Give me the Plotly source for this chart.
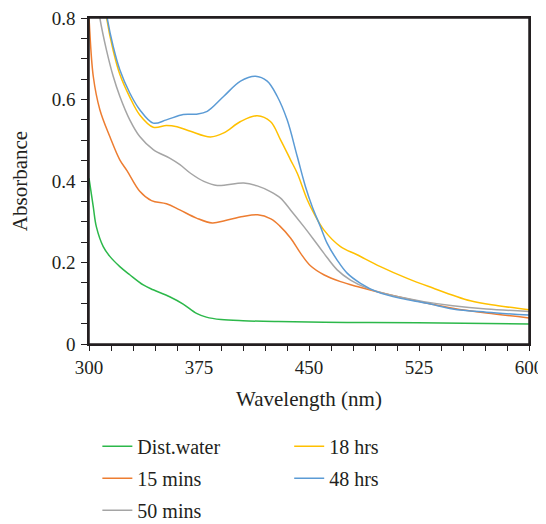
import plotly.graph_objects as go

# Wavelength (nm) / absorbance
water_x = [300, 302.9, 305, 309.7, 314.2, 321, 327.8, 337, 343.8, 355, 364.2, 373.3, 380, 390, 405, 429, 476, 524, 600]
water_y = [0.407, 0.337, 0.288, 0.239, 0.215, 0.190, 0.170, 0.145, 0.133, 0.116, 0.098, 0.075, 0.066, 0.060, 0.057, 0.055, 0.053, 0.052, 0.049]

min15_x = [299, 300, 302.9, 307.4, 314.2, 321, 326, 334.6, 342.6, 352.8, 361.9, 373.3, 384, 393, 405, 415, 424, 430,
           437.4, 444.2, 451, 460.1, 471.5, 482.8, 505.6, 530.6, 548, 571, 600]
min15_y = [0.86, 0.80, 0.657, 0.575, 0.509, 0.452, 0.425, 0.375, 0.352, 0.344, 0.329, 0.309, 0.297, 0.303, 0.313, 0.317, 0.307, 0.290,
           0.260, 0.223, 0.192, 0.170, 0.153, 0.141, 0.120, 0.100, 0.088, 0.076, 0.064]

min50_x = [305, 307.4, 312, 316.5, 321, 327.8, 334.6, 343.8, 355, 362, 369.2, 378.3, 387.4, 405.5, 414.7, 423.7, 430.6,
           437.4, 446.5, 453.3, 460.1, 469.2, 478.3, 489.7, 505.6, 528.3, 548, 571, 600]
min50_y = [0.86, 0.80, 0.72, 0.657, 0.608, 0.550, 0.509, 0.477, 0.456, 0.440, 0.419, 0.399, 0.389, 0.395, 0.388, 0.374, 0.358,
           0.329, 0.288, 0.256, 0.223, 0.182, 0.157, 0.137, 0.120, 0.104, 0.094, 0.086, 0.080]

hrs18_x = [310, 312, 316.5, 321, 327.8, 334.6, 343.8, 352.8, 360, 369.2, 382.8, 391.9, 403.3, 414.7, 423.7, 430.6, 437.4,
           442, 448.8, 453.3, 460.1, 471.5, 482.8, 498.7, 517, 531.7, 560, 579, 600]
hrs18_y = [0.86, 0.80, 0.72, 0.662, 0.606, 0.562, 0.532, 0.536, 0.533, 0.522, 0.508, 0.518, 0.546, 0.560, 0.546, 0.501, 0.452,
           0.419, 0.354, 0.321, 0.280, 0.239, 0.219, 0.190, 0.161, 0.141, 0.106, 0.094, 0.084]

hrs48_x = [310, 312.4, 316.5, 321, 327.8, 334.6, 343.8, 352.8, 364.2, 373.3, 380.6, 391.9, 403.3, 413.5, 421.5, 428.3, 435.1,
           442, 447.6, 452.2, 457.8, 462.4, 469.2, 476, 485.1, 496.5, 512.4, 530.6, 548, 571, 600]
hrs48_y = [0.86, 0.80, 0.730, 0.673, 0.616, 0.575, 0.542, 0.550, 0.563, 0.564, 0.571, 0.608, 0.645, 0.657, 0.645, 0.608, 0.550,
           0.460, 0.386, 0.337, 0.288, 0.247, 0.206, 0.174, 0.149, 0.128, 0.112, 0.100, 0.086, 0.078, 0.071]

FONT = "Liberation Serif"
INK = "#231f20"

fig = go.Figure()

# first legend column
fig.add_trace(go.Scatter(x=water_x, y=water_y, name="Dist.water", mode="lines",
                         line=dict(color="#2cb84a", width=1.5, shape="spline"),
                         legend="legend", legendgroup="a"))
fig.add_trace(go.Scatter(x=min15_x, y=min15_y, name="15 mins", mode="lines",
                         line=dict(color="#ed7d31", width=1.5, shape="spline"),
                         legend="legend", legendgroup="b"))
fig.add_trace(go.Scatter(x=min50_x, y=min50_y, name="50 mins", mode="lines",
                         line=dict(color="#a5a5a5", width=1.5, shape="spline"),
                         legend="legend", legendgroup="c"))
# second legend column
fig.add_trace(go.Scatter(x=hrs18_x, y=hrs18_y, name="18 hrs", mode="lines",
                         line=dict(color="#ffc000", width=1.5, shape="spline"),
                         legend="legend2", legendgroup="d"))
fig.add_trace(go.Scatter(x=hrs48_x, y=hrs48_y, name="48 hrs", mode="lines",
                         line=dict(color="#5b9bd5", width=1.5, shape="spline"),
                         legend="legend2", legendgroup="e"))

legend_style = dict(font=dict(family=FONT, size=20, color=INK), tracegroupgap=3,
                    bgcolor="rgba(0,0,0,0)", yanchor="top", xanchor="left")

fig.update_layout(
    width=546, height=524,
    margin=dict(l=81, r=25, t=10, b=188, autoexpand=False),
    paper_bgcolor="white", plot_bgcolor="white",
    font=dict(family=FONT, size=19, color=INK),
    legend=dict(x=0.019, y=-0.254, **legend_style),
    legend2=dict(x=0.455, y=-0.254, **legend_style),
    xaxis=dict(
        range=[300, 600], tick0=300, dtick=75, ticks="outside", ticklen=5,
        tickcolor=INK, showline=True, linecolor=INK, linewidth=1.5, mirror=True,
        showgrid=False, zeroline=False, ticklabeloverflow="allow",
        minor=dict(dtick=15, ticks="outside", ticklen=5, tickcolor=INK),
        title=dict(text="Wavelength (nm)", font=dict(size=21), standoff=15),
        tickfont=dict(size=19),
    ),
    yaxis=dict(
        range=[0, 0.8], dtick=0.2, ticks="outside", ticklen=6, ticklabelstandoff=2,
        tickcolor=INK, showline=True, linecolor=INK, linewidth=1.5, mirror=True,
        showgrid=False, zeroline=False, ticklabeloverflow="allow",
        minor=dict(dtick=0.05, ticks="outside", ticklen=6, tickcolor=INK),
        title=dict(text="Absorbance", font=dict(size=21), standoff=21),
        tickfont=dict(size=19),
    ),
)

# plot frame (top and right edges)
fig.add_shape(type="rect", xref="paper", yref="paper", x0=0, x1=1, y0=0, y1=1,
              line=dict(color=INK, width=1.5), layer="above")

fig.write_html("out.html")
